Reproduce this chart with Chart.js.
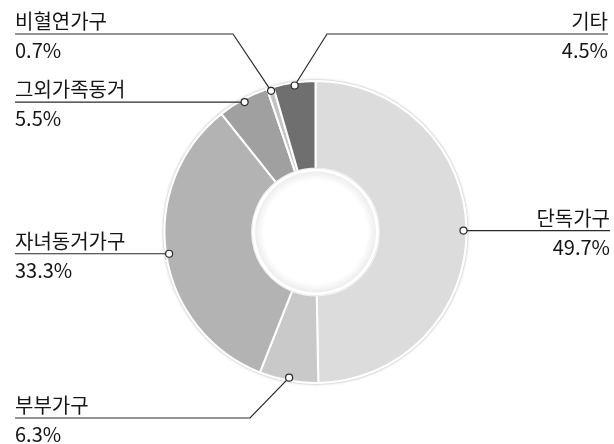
<!DOCTYPE html>
<html>
<head>
<meta charset="utf-8">
<script src="https://cdn.jsdelivr.net/npm/chart.js@4"></script>
<style>
  html, body { margin: 0; padding: 0; background: #fff; }
  #wrap { width: 614px; height: 444px; position: relative; }
</style>
</head>
<body>
<div id="wrap"><canvas id="myChart" width="614" height="444"></canvas></div>
<script>
// data
const categories = ["단독가구", "부부가구", "자녀동거가구", "그외가족동거", "비혈연가구", "기타"];
const shares = [49.7, 6.3, 33.3, 5.5, 0.7, 4.5];
const colors = ["#dcdcdc", "#c9c9c9", "#b3b3b3", "#a0a0a0", "#c4c4c4", "#6f6f6f"];

// where each label text sits (layout only)
// align, text x, line y (null = same as the dot), elbow x (null = straight line)
const labelLayout = [
  { align: "right", x: 610, lineY: null, elbowX: null },
  { align: "left",  x: 15,  lineY: 418,  elbowX: 250 },
  { align: "left",  x: 15,  lineY: null, elbowX: null },
  { align: "left",  x: 15,  lineY: null, elbowX: null },
  { align: "left",  x: 15,  lineY: 34,   elbowX: 233 },
  { align: "right", x: 608, lineY: 34,   elbowX: 327 }
];

const FONT = '20px "Noto Sans CJK KR", "Noto Sans", sans-serif';

// soft shadow under the ring and inner shading of the hole
const ringDeco = {
  id: "ringDeco",
  beforeDatasetsDraw(chart) {
    const arc = chart.getDatasetMeta(0).data[0];
    if (!arc) return;
    const ctx = chart.ctx;
    ctx.save();
    ctx.beginPath();
    ctx.arc(arc.x, arc.y, arc.outerRadius + 1, 0, Math.PI * 2);
    ctx.fillStyle = "#fff";
    ctx.shadowColor = "rgba(0,0,0,0.35)";
    ctx.shadowBlur = 3;
    ctx.fill();
    ctx.restore();
  },
  afterDatasetsDraw(chart) {
    const arc = chart.getDatasetMeta(0).data[0];
    if (!arc) return;
    const ctx = chart.ctx;
    const r = arc.innerRadius;
    ctx.save();
    ctx.beginPath();
    ctx.arc(arc.x, arc.y, r, 0, Math.PI * 2);
    ctx.fillStyle = "#fff";
    ctx.shadowColor = "rgba(0,0,0,0.25)";
    ctx.shadowBlur = 2;
    ctx.fill();
    ctx.restore();
    // inner shading
    ctx.save();
    const g = ctx.createRadialGradient(arc.x, arc.y, r - 12, arc.x, arc.y, r - 3);
    g.addColorStop(0, "rgba(0,0,0,0)");
    g.addColorStop(1, "rgba(0,0,0,0.07)");
    ctx.beginPath();
    ctx.arc(arc.x, arc.y, r - 3, 0, Math.PI * 2);
    ctx.fillStyle = g;
    ctx.fill();
    ctx.restore();
  }
};

// leader lines, dots and texts
const leaderLabels = {
  id: "leaderLabels",
  afterDraw(chart) {
    const ctx = chart.ctx;
    const meta = chart.getDatasetMeta(0);
    const data = chart.data.datasets[0].data;
    meta.data.forEach((arc, i) => {
      const lay = labelLayout[i];
      const mid = (arc.startAngle + arc.endAngle) / 2;
      const rr = arc.outerRadius - 3;
      const dx = arc.x + Math.cos(mid) * rr;
      const dy = arc.y + Math.sin(mid) * rr;
      const ly = lay.lineY == null ? dy : lay.lineY;

      ctx.save();
      ctx.strokeStyle = "#2a2a2a";
      ctx.lineWidth = 1.2;
      ctx.beginPath();
      ctx.moveTo(lay.x, ly);
      if (lay.elbowX != null) {
        ctx.lineTo(lay.elbowX, ly);
      }
      ctx.lineTo(dx, dy);
      ctx.stroke();

      ctx.beginPath();
      ctx.arc(dx, dy, 3.5, 0, Math.PI * 2);
      ctx.fillStyle = "#fff";
      ctx.fill();
      ctx.stroke();

      ctx.fillStyle = "#151515";
      ctx.font = FONT;
      ctx.textAlign = lay.align;
      ctx.textBaseline = "alphabetic";
      ctx.fillText(chart.data.labels[i], lay.x, ly - 5);
      ctx.fillText(data[i].toFixed(1) + "%", lay.x, ly + 24);
      ctx.restore();
    });
  }
};

new Chart(document.getElementById("myChart"), {
  type: "doughnut",
  data: {
    labels: categories,
    datasets: [{
      data: shares,
      backgroundColor: colors,
      borderColor: "#fff",
      borderWidth: 2
    }]
  },
  options: {
    responsive: false,
    animation: false,
    cutout: "42%",
    layout: { padding: { left: 163, right: 146, top: 80, bottom: 60 } },
    plugins: {
      legend: { display: false },
      tooltip: { enabled: false }
    }
  },
  plugins: [ringDeco, leaderLabels]
});
</script>
</body>
</html>
